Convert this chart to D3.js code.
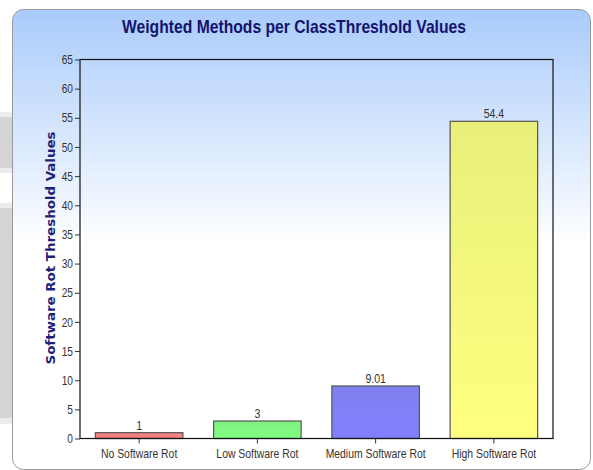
<!DOCTYPE html>
<html><head><meta charset="utf-8">
<script src="https://cdn.jsdelivr.net/npm/d3@7"></script>
<style>html,body{margin:0;padding:0;background:#fff;overflow:hidden}</style>
</head><body><svg id="c" width="593" height="470"></svg>
<script>
const categories = ["No Software Rot","Low Software Rot","Medium Software Rot","High Software Rot"];
const values = [1, 3, 9.01, 54.4];
const valueLabels = ["1","3","9.01","54.4"];
const barColors = ["#ff8080","#80ff80","#8080ff","#ffff80"];
const barTopColors = ["#f08080","#80f080","#8080f0","#e8f07a"];
const yTicks = [0,5,10,15,20,25,30,35,40,45,50,55,60,65];
const title = "Weighted Methods per ClassThreshold Values";
const yTitle = "Software Rot Threshold Values";

const svg = d3.select("#c");
const defs = svg.append("defs");
const bg = defs.append("linearGradient").attr("id","bg")
  .attr("gradientUnits","userSpaceOnUse").attr("x1",0).attr("y1",9).attr("x2",0).attr("y2",245);
bg.append("stop").attr("offset","0").attr("stop-color","#a9cbfb");
bg.append("stop").attr("offset","1").attr("stop-color","#ffffff");

// page decorations on the left
[[112,117,"#ececec"],[117,168,"#d4d4d4"],[168,173,"#ececec"],[203,208,"#ececec"],[208,418,"#d4d4d4"],[418,424,"#ececec"]]
  .forEach(([a,b,c])=>svg.append("rect").attr("x",0).attr("y",a).attr("width",13).attr("height",b-a).attr("fill",c));

// panel
svg.append("rect").attr("x",12.5).attr("y",9.5).attr("width",578).attr("height",460).attr("rx",11)
  .attr("fill","url(#bg)").attr("stroke","#9a9a9a").attr("stroke-width",1);

const m = {l:80, r:553, t:59.5, b:438.5};
const x = d3.scaleBand().domain(categories).range([m.l,m.r]).paddingInner(0.26).paddingOuter(0.13);
const y = d3.scaleLinear().domain([0,65]).range([m.b,m.t]);

categories.forEach((c,i)=>{
  const g = defs.append("linearGradient").attr("id","g"+i).attr("x1",0).attr("y1",0).attr("x2",0).attr("y2",1);
  g.append("stop").attr("offset","0").attr("stop-color",barTopColors[i]);
  g.append("stop").attr("offset","1").attr("stop-color",barColors[i]);
});

const font = "'Liberation Sans',Arial,sans-serif";
function narrow(sel, f){ sel.each(function(){ const w=this.getComputedTextLength(); d3.select(this).attr("textLength", w*f).attr("lengthAdjust","spacingAndGlyphs"); }); }

svg.append("text").attr("x",294).attr("y",33).attr("text-anchor","middle")
  .attr("font-family",font).attr("font-weight","bold").attr("font-size",19).attr("fill","#14146e")
  .attr("textLength",344).attr("lengthAdjust","spacingAndGlyphs").text(title);

// bars
svg.selectAll("rect.bar").data(values).join("rect").attr("class","bar")
  .attr("x",(d,i)=>x(categories[i])).attr("y",d=>y(d))
  .attr("width",x.bandwidth()).attr("height",d=>y(0)-y(d))
  .attr("fill",(d,i)=>`url(#g${i})`).attr("stroke","#555").attr("stroke-width",1.2);
const vl = svg.selectAll("text.vl").data(values).join("text").attr("class","vl")
  .attr("x",(d,i)=>x(categories[i])+x.bandwidth()/2).attr("y",d=>y(d)-3)
  .attr("text-anchor","middle").attr("font-family",font).attr("font-size",13.5).attr("fill","#333")
  .text((d,i)=>valueLabels[i]);
narrow(vl, 0.78);

// frame
svg.append("rect").attr("x",m.l).attr("y",m.t).attr("width",m.r-m.l).attr("height",m.b-m.t)
  .attr("fill","none").attr("stroke","#111").attr("stroke-width",1.2);

const ya = svg.append("g").attr("transform",`translate(${m.l},0)`)
  .call(d3.axisLeft(y).tickValues(yTicks).tickSize(5).tickPadding(2).tickFormat(d3.format("d")));
ya.select(".domain").remove();
ya.selectAll("text").attr("font-family",font).attr("font-size",13).attr("fill","#333");
narrow(ya.selectAll("text"), 0.78);
ya.selectAll("line").attr("stroke","#333");

const xa = svg.append("g").attr("transform",`translate(0,${m.b})`)
  .call(d3.axisBottom(x).tickSize(5).tickPadding(5));
xa.select(".domain").remove();
xa.selectAll("text").attr("font-family",font).attr("font-size",13).attr("fill","#333");
narrow(xa.selectAll("text"), 0.8);
xa.selectAll("line").attr("stroke","#333");

svg.append("text").attr("transform",`translate(55,248) rotate(-90)`).attr("text-anchor","middle")
  .attr("font-family","'DejaVu Sans',Verdana,sans-serif").attr("font-weight","bold").attr("font-size",12)
  .attr("fill","#1f1f7a").attr("textLength",233).attr("lengthAdjust","spacingAndGlyphs").text(yTitle);
</script></body></html>
